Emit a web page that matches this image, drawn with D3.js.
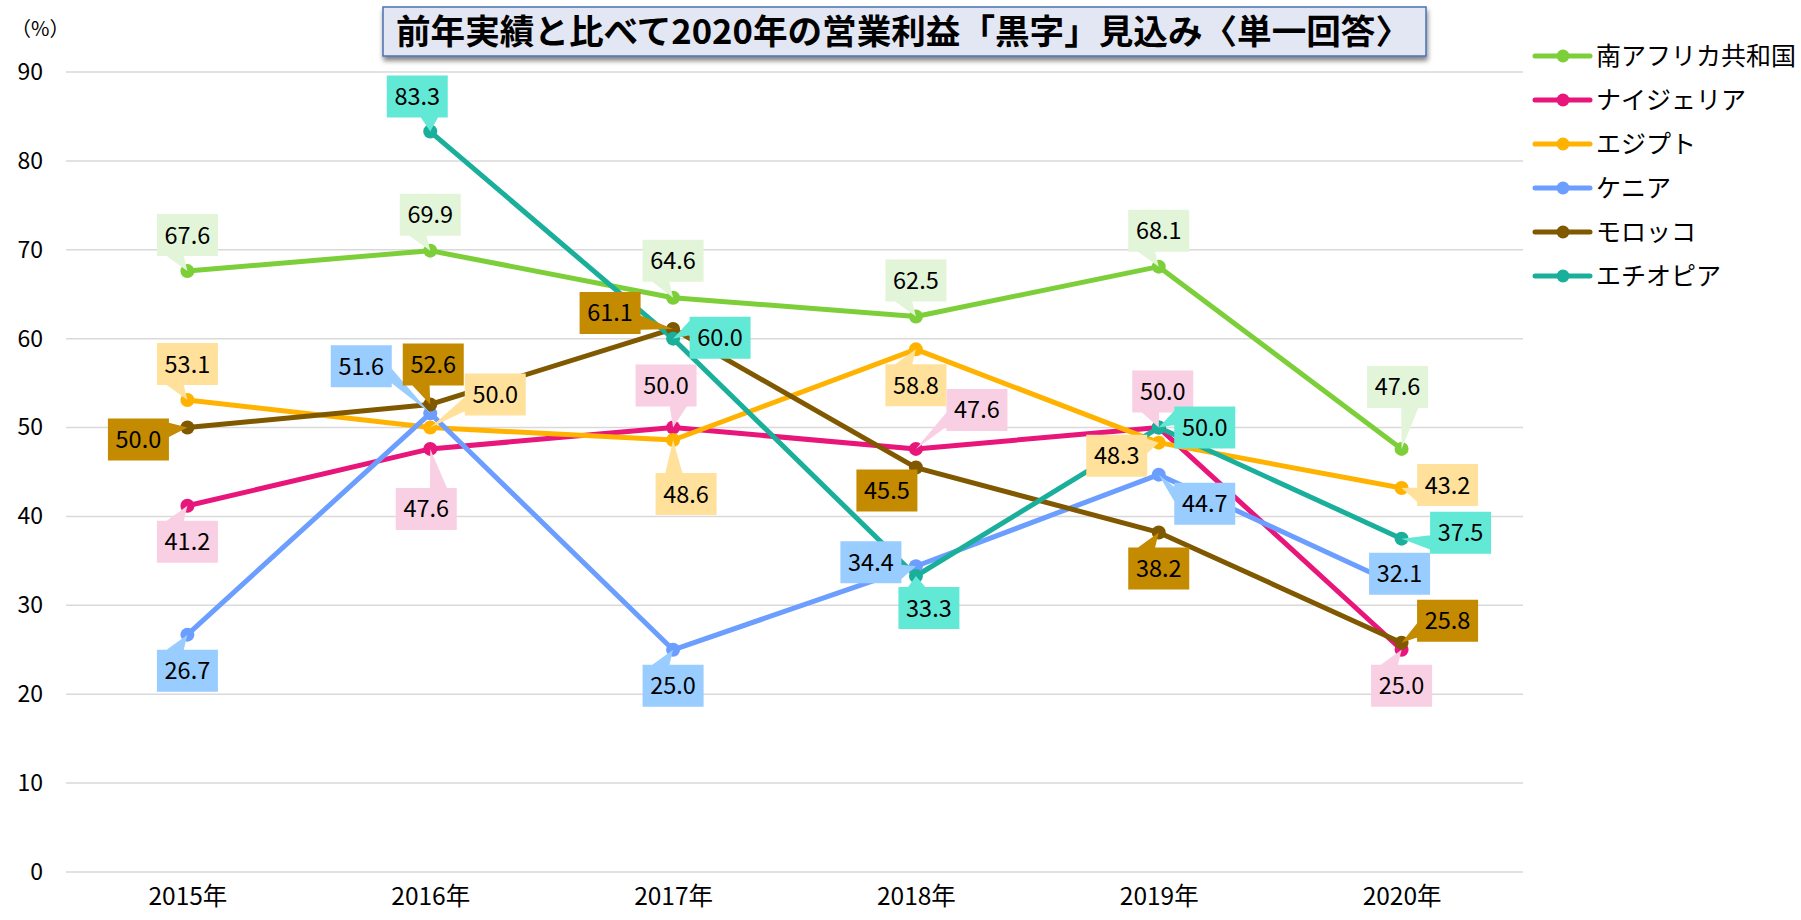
<!DOCTYPE html>
<html>
<meta charset="utf-8">
<script src="https://cdn.jsdelivr.net/npm/d3@7"></script>
<style>
  body { margin: 0; background: #fff; }
  svg text { font-family: "Noto Sans CJK JP", "Noto Sans", sans-serif; fill: #000; }
</style>
<body>
<div id="chart"></div>
<script>

var years = ["2015年", "2016年", "2017年", "2018年", "2019年", "2020年"];
var yTicks = [0, 10, 20, 30, 40, 50, 60, 70, 80, 90];

var seriesNames = ["南アフリカ共和国", "ナイジェリア", "エジプト", "ケニア", "モロッコ", "エチオピア"];

var southAfrica = [67.6, 69.9, 64.6, 62.5, 68.1, 47.6];
var nigeria     = [41.2, 47.6, 50.0, 47.6, 50.0, 25.0];
var egypt       = [53.1, 50.0, 48.6, 58.8, 48.3, 43.2];
var kenya       = [26.7, 51.6, 25.0, 34.4, 44.7, 32.1];
var morocco     = [50.0, 52.6, 61.1, 45.5, 38.2, 25.8];
var ethiopia    = [null, 83.3, 60.0, 33.3, 50.0, 37.5];

var seriesValues = [southAfrica, nigeria, egypt, kenya, morocco, ethiopia];

var lineColors  = ["#7dcf3a", "#e8157a", "#ffb300", "#6b9eff", "#7f5800", "#1aaf9b"];
var labelColors = ["#e2f5d8", "#f9cfe3", "#ffe19b", "#99ccff", "#c48a00", "#62e9d6"];

// label box offsets from the point (px), one per value
var labelOffsets = [
  [[0,-36], [0,-36], [0,-37], [0,-36], [0,-36], [-4,-62]],
  [[0,36], [-4,60], [-7,-42], [61,-39], [4,-36], [0,36]],
  [[0,-36], [65,-33], [13,54], [0,36], [-42,13], [46,-3]],
  [[0,36], [-69,-47], [0,36], [-45,-4], [46,29], [-2,-13]],
  [[-49,12], [3,-40], [-63,-16], [-29,23], [0,36], [46,-22]],
  [null, [-13,-35], [47,-1], [13,32], [46,0], [59,-6]]
];

var W = 1801, H = 920;
var svg = d3.select("#chart").append("svg")
  .attr("width", W).attr("height", H);

var x = d3.scalePoint().domain(years).range([66, 1523]).padding(0.5);
var y = d3.scaleLinear().domain([0, 90]).range([872, 72]);

// grid
svg.append("g").selectAll("line")
  .data(yTicks).enter().append("line")
    .attr("x1", 66).attr("x2", 1523)
    .attr("y1", function(d) { return y(d); })
    .attr("y2", function(d) { return y(d); })
    .attr("stroke", "#d9d9d9").attr("stroke-width", 1.5);

// y axis labels
var yAxis = svg.append("g")
  .attr("transform", "translate(43,0)")
  .call(d3.axisLeft(y).tickValues(yTicks).tickSize(0).tickPadding(0));
yAxis.select(".domain").remove();
yAxis.selectAll("text").style("font-size", "23px").attr("fill", "#000")
  .style("font-family", "'Noto Sans CJK JP', sans-serif");

// x axis labels
var xAxis = svg.append("g")
  .attr("transform", "translate(0,888)")
  .call(d3.axisBottom(x).tickSize(0).tickPadding(0));
xAxis.select(".domain").remove();
xAxis.selectAll("text").style("font-size", "24.5px").attr("fill", "#000")
  .style("font-family", "'Noto Sans CJK JP', sans-serif");

svg.append("text").attr("x", 11).attr("y", 36)
  .style("font-size", "20px").text("（%）");

// lines
var line = d3.line()
  .defined(function(d) { return d.v != null; })
  .x(function(d) { return x(d.year); })
  .y(function(d) { return y(d.v); });

var data = seriesValues.map(function(vals, s) {
  return vals.map(function(v, i) { return { year: years[i], v: v, s: s, i: i }; });
});

svg.append("g").selectAll("path")
  .data(data).enter().append("path")
    .attr("d", line)
    .attr("fill", "none")
    .attr("stroke", function(d, s) { return lineColors[s]; })
    .attr("stroke-width", 5)
    .attr("stroke-linejoin", "round");

data.forEach(function(pts, s) {
  svg.append("g").selectAll("circle")
    .data(pts.filter(function(d) { return d.v != null; }))
    .enter().append("circle")
      .attr("cx", function(d) { return x(d.year); })
      .attr("cy", function(d) { return y(d.v); })
      .attr("r", 7)
      .attr("fill", lineColors[s]);
});

// callout labels
var bw = 61, bh = 42;
function calloutPath(cx, cy, px, py) {
  var l = cx - bw / 2, r = cx + bw / 2, t = cy - bh / 2, b = cy + bh / 2;
  var rect = "M" + l + "," + t + "H" + r + "V" + b + "H" + l + "Z";
  if (px > l - 3 && px < r + 3 && py > t - 3 && py < b + 3) return rect;
  var dx = (px - cx) / (bw / 2), dy = (py - cy) / (bh / 2);
  var p;
  if (Math.abs(dy) >= Math.abs(dx)) {
    var ey = dy < 0 ? t : b;
    var a0, a1;
    if (px > cx + 2) { a0 = cx + 0.06 * bw; a1 = cx + 0.34 * bw; }
    else { a0 = cx - 0.34 * bw; a1 = cx - 0.06 * bw; }
    p = "M" + a0 + "," + ey + "L" + px + "," + py + "L" + a1 + "," + ey + "Z";
  } else {
    var ex = dx < 0 ? l : r;
    var c0, c1;
    if (py > cy + 2) { c0 = cy + 0.06 * bh; c1 = cy + 0.4 * bh; }
    else { c0 = cy - 0.4 * bh; c1 = cy - 0.06 * bh; }
    p = "M" + ex + "," + c0 + "L" + px + "," + py + "L" + ex + "," + c1 + "Z";
  }
  return rect + p;
}

data.forEach(function(pts, s) {
  var g = svg.append("g");
  pts.forEach(function(d, i) {
    if (d.v == null) return;
    var off = labelOffsets[s][i];
    var px = x(d.year), py = y(d.v);
    var cx = px + off[0], cy = py + off[1];
    g.append("path")
      .attr("d", calloutPath(cx, cy, px, py))
      .attr("fill", labelColors[s]);
    g.append("text")
      .attr("x", cx).attr("y", cy + 8.5)
      .attr("text-anchor", "middle")
      .style("font-size", "23.5px")
      .text(d3.format(".1f")(d.v));
  });
});

// title
var defs = svg.append("defs");
var f = defs.append("filter").attr("id", "shadow")
  .attr("x", "-5%").attr("y", "-30%").attr("width", "110%").attr("height", "170%");
f.append("feGaussianBlur").attr("in", "SourceAlpha").attr("stdDeviation", 2.5);
f.append("feOffset").attr("dx", 1).attr("dy", 4).attr("result", "ob");
f.append("feComponentTransfer").append("feFuncA").attr("type", "linear").attr("slope", 0.5);
var fm = f.append("feMerge");
fm.append("feMergeNode");
fm.append("feMergeNode").attr("in", "SourceGraphic");

svg.append("rect")
  .attr("x", 383).attr("y", 7).attr("width", 1043).attr("height", 49)
  .attr("fill", "#e3e7f3").attr("stroke", "#4a72b2").attr("stroke-width", 1.5)
  .attr("filter", "url(#shadow)");
svg.append("text")
  .attr("x", 396).attr("y", 44)
  .attr("textLength", 1014).attr("lengthAdjust", "spacingAndGlyphs")
  .style("font-size", "34px").style("font-weight", "bold")
  .text("前年実績と比べて2020年の営業利益「黒字」見込み〈単一回答〉");

// legend
var lg = svg.append("g").selectAll("g")
  .data(seriesNames).enter().append("g")
    .attr("transform", function(d, i) { return "translate(1535," + (56 + i * 44) + ")"; });
lg.append("line").attr("x1", 0).attr("x2", 55)
  .attr("stroke", function(d, i) { return lineColors[i]; })
  .attr("stroke-width", 5).attr("stroke-linecap", "round");
lg.append("circle").attr("cx", 28).attr("r", 6.5)
  .attr("fill", function(d, i) { return lineColors[i]; });
lg.append("text").attr("x", 61).attr("y", 9)
  .style("font-size", "25px")
  .text(function(d) { return d; });

</script>
</body>
</html>
